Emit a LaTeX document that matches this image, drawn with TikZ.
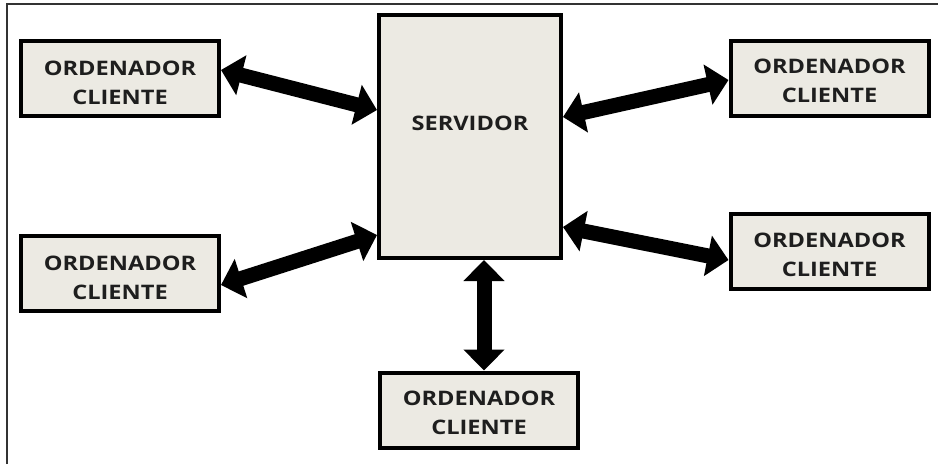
\documentclass[tikz,border=0pt]{standalone}
\usepackage{fontspec}
\setmainfont{Open Sans}
\usetikzlibrary{arrows.meta}
\definecolor{boxfill}{HTML}{ECEAE3}
\definecolor{txt}{HTML}{1E1E1E}
\newfontfamily\widefont[FakeStretch=1.18]{Open Sans}
\begin{document}
\begin{tikzpicture}[x=1pt,y=-1pt,
  box/.style={draw=black,line width=4pt,fill=boxfill,inner sep=0pt,
    minimum width=198pt,minimum height=75pt},
  srvbox/.style={draw=black,line width=4pt,fill=boxfill,inner sep=0pt,
    minimum width=182pt,minimum height=243pt},
  lbl/.style={font=\widefont\bfseries\fontsize{20}{29}\selectfont,text=txt,align=center,inner sep=0pt},
  link/.style={line width=15pt,draw=black,
    {Triangle[width=40pt,length=21pt]}-{Triangle[width=40pt,length=21pt]}},
  frame/.style={draw=black!80,line width=2pt}]
\useasboundingbox (0,0) rectangle (938,464);
\draw[frame] (7,464) -- (7,4) -- (938,4);
\node[srvbox] (srv) at (470,136.5) {};
\node[lbl] (srvtext) at ([yshift=13.5pt]srv.center) {SERVIDOR};
\node[box] (tl) at (120,78.5) {};
\node[box] (bl) at (120,273.5) {};
\node[box] (tr) at (829.5,78) {};
\node[box] (br) at (829.5,251.5) {};
\node[box] (bt) at (479,410) {};
\node[lbl] (tltext) at ([yshift=-4pt]tl.center) {ORDENADOR\\CLIENTE};
\node[lbl] (bltext) at ([yshift=-4pt]bl.center) {ORDENADOR\\CLIENTE};
\node[lbl] (trtext) at ([yshift=-3pt]tr.center) {ORDENADOR\\CLIENTE};
\node[lbl] (brtext) at ([yshift=-3pt]br.center) {ORDENADOR\\CLIENTE};
\node[lbl] (bttext) at ([yshift=-3pt]bt.center) {ORDENADOR\\CLIENTE};
\draw[link] ([yshift=8.5pt]tl.east) -- ([yshift=26.5pt]srv.west);
\draw[link] ([yshift=-11.5pt]bl.east) -- ([yshift=-98.5pt]srv.west);
\draw[link] ([yshift=19.5pt]srv.east) -- ([yshift=-2pt]tr.west);
\draw[link] ([yshift=-90.5pt]srv.east) -- ([yshift=-8.5pt]br.west);
\draw[link] ([xshift=14pt]srv.south) -- ([xshift=5pt]bt.north);
\end{tikzpicture}
\end{document}
